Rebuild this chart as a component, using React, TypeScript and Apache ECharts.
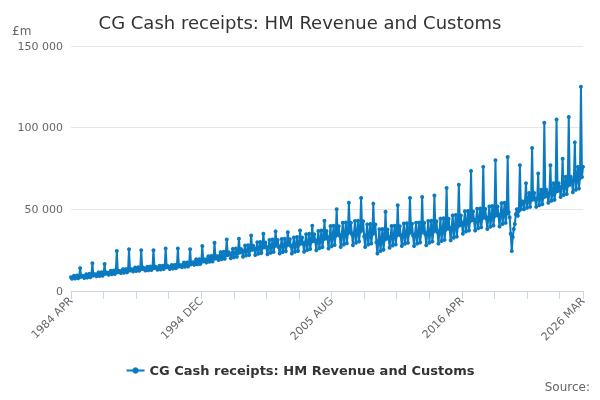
import React, { useEffect, useRef } from 'react';
import * as echarts from 'echarts';

// Monthly receipts, £m, each row a fiscal year from April to March
const firstFiscalYear = 1984;
const fiscalYearValues: number[][] = [
  [8400, 7500, 8500, 9400, 7700, 8500, 9500, 7800, 8600, 14000, 8700, 9300],
  [9100, 8000, 9200, 10300, 8200, 9300, 10500, 8400, 9400, 17000, 9500, 10300],
  [10100, 9000, 10200, 11400, 9200, 10300, 11500, 9400, 10400, 16500, 10500, 11300],
  [11100, 10000, 11200, 12400, 10200, 11300, 12500, 10400, 11400, 24500, 11500, 12300],
  [12100, 11000, 12200, 13400, 11200, 12300, 13500, 11400, 12400, 25500, 12500, 13300],
  [13100, 12000, 13200, 14400, 12200, 13300, 14500, 12400, 13400, 25000, 13500, 14300],
  [13600, 12500, 13700, 14900, 12700, 13800, 15000, 12900, 13900, 25000, 14000, 14800],
  [14100, 13000, 14200, 15400, 13200, 14300, 15500, 13400, 14400, 26000, 14500, 15300],
  [14600, 13500, 14700, 15900, 13700, 14800, 16000, 13900, 14900, 26000, 15000, 15800],
  [15800, 14500, 16000, 17400, 14800, 16000, 17500, 15000, 16100, 25500, 16300, 17200],
  [17600, 16000, 17700, 19400, 16300, 17800, 19500, 16500, 17900, 27500, 18100, 19200],
  [19300, 17500, 19500, 21300, 17900, 19500, 21500, 18100, 19700, 29500, 19900, 21200],
  [21200, 19000, 21500, 23800, 19500, 21500, 24000, 19800, 21800, 31500, 22000, 23700],
  [22700, 20000, 23000, 25800, 20600, 23000, 26000, 20900, 23300, 32000, 23600, 25700],
  [24200, 21000, 24500, 27800, 21700, 24500, 28000, 22100, 24900, 34000, 25200, 27700],
  [25600, 22000, 26000, 29800, 22800, 26000, 30000, 23200, 26400, 35000, 26800, 29700],
  [26600, 22500, 27000, 31300, 23400, 27000, 31500, 23900, 27500, 36500, 27900, 31200],
  [27000, 23000, 27500, 31800, 23900, 27500, 32000, 24400, 28000, 36000, 28400, 31700],
  [27500, 23000, 28000, 32800, 24000, 28000, 33000, 24500, 28500, 37000, 29000, 32700],
  [29000, 24000, 29500, 34800, 25100, 29500, 35000, 25700, 30000, 40000, 30600, 34700],
  [30400, 25000, 31000, 36800, 26200, 31000, 37000, 26800, 31600, 43000, 32200, 36700],
  [32300, 26000, 33000, 39800, 27400, 33000, 40000, 28100, 33700, 50000, 34400, 39700],
  [33800, 27000, 34500, 41800, 28500, 34500, 42000, 29300, 35300, 54000, 36000, 41700],
  [34800, 28000, 35500, 42800, 29500, 35500, 43000, 30300, 36300, 57000, 37000, 42700],
  [33300, 27000, 34000, 40800, 28400, 34000, 41000, 29100, 34700, 53500, 35400, 40700],
  [29800, 23000, 30500, 37800, 24500, 30500, 38000, 25300, 31300, 48500, 32000, 37700],
  [32600, 26500, 33300, 39800, 27900, 33300, 40000, 28500, 34000, 52500, 34600, 39700],
  [33800, 27500, 34500, 41300, 28900, 34500, 41500, 29600, 35200, 57000, 35900, 41200],
  [34000, 27500, 34800, 41800, 29000, 34800, 42000, 29700, 35500, 57500, 36200, 41700],
  [34800, 28000, 35500, 42800, 29500, 35500, 43000, 30300, 36300, 58500, 37000, 42700],
  [36000, 29000, 36800, 44300, 30600, 36800, 44500, 31300, 37500, 63000, 38300, 44200],
  [38000, 31000, 38800, 46300, 32600, 38800, 46500, 33300, 39500, 65000, 40300, 46200],
  [41300, 35000, 42000, 48800, 36400, 42000, 49000, 37100, 42700, 73500, 43400, 48700],
  [43100, 37000, 43800, 50300, 38400, 43800, 50500, 39000, 44400, 76000, 45100, 50200],
  [44300, 38000, 45000, 51800, 39400, 45000, 52000, 40100, 45700, 80000, 46400, 51700],
  [46000, 39500, 46800, 53800, 41000, 46800, 54000, 41700, 47500, 82000, 48200, 45000],
  [35000, 24500, 33000, 38000, 41000, 47000, 50000, 46000, 49000, 77000, 50000, 55000],
  [54500, 50000, 55000, 66000, 51000, 55000, 60000, 51500, 55500, 87500, 56000, 60000],
  [56200, 51500, 56700, 72000, 52500, 56700, 62000, 53100, 57300, 103000, 57800, 62000],
  [59400, 54000, 60000, 77000, 55200, 60000, 66000, 55800, 60600, 105000, 61200, 66000],
  [63100, 57500, 63800, 81000, 58800, 63800, 70000, 59400, 64400, 106500, 65000, 70000],
  [67500, 60500, 68300, 91000, 62000, 68300, 76000, 62800, 69000, 125000, 69800, 76000],
];
const monthNames = ['APR', 'MAY', 'JUN', 'JUL', 'AUG', 'SEP', 'OCT', 'NOV', 'DEC', 'JAN', 'FEB', 'MAR'];
const seriesName = 'CG Cash receipts: HM Revenue and Customs';

const categories: string[] = [];
const values: number[] = [];
fiscalYearValues.forEach((row, i) => {
  row.forEach((v, m) => {
    const year = firstFiscalYear + i + (m >= 9 ? 1 : 0);
    categories.push(`${year} ${monthNames[m]}`);
    values.push(v);
  });
});
const lastIndex = categories.length - 1;

const App = () => {
  const chartRef = useRef<HTMLDivElement>(null);

  useEffect(() => {
    if (!chartRef.current) return;
    const chart = echarts.init(chartRef.current, null, { renderer: 'svg' });
    const font = 'DejaVu Sans, Verdana, sans-serif';
    chart.setOption({
      animation: false,
      textStyle: { fontFamily: font },
      title: {
        text: 'CG Cash receipts: HM Revenue and Customs',
        left: 'center',
        top: 8,
        textStyle: { fontSize: 18, fontWeight: 'normal', color: '#333', fontFamily: font },
      },
      graphic: [
        { type: 'text', left: 12, top: 25, style: { text: '£m', fontSize: 12, fill: '#666', fontFamily: font } },
        { type: 'text', right: 10, top: 381, style: { text: 'Source:', fontSize: 12, fill: '#666', fontFamily: font } },
      ],
      legend: {
        bottom: 18,
        left: 'center',
        itemWidth: 18,
        itemHeight: 8,
        textStyle: { fontSize: 13, fontWeight: 'bold', color: '#333', fontFamily: font },
      },
      grid: { left: 71, right: 17, top: 46, bottom: 109 },
      xAxis: {
        type: 'category',
        data: categories,
        boundaryGap: false,
        axisLine: { lineStyle: { color: '#ccd6eb' } },
        axisTick: {
          length: 8,
          lineStyle: { color: '#ccd6eb' },
          interval: (i: number) => i % 32 === 0 || i === lastIndex,
        },
        axisLabel: {
          rotate: 45,
          color: '#666',
          fontSize: 11,
          fontFamily: font,
          showMaxLabel: true,
          interval: (i: number) => i % 128 === 0 || i === lastIndex,
        },
      },
      yAxis: {
        type: 'value',
        min: 0,
        max: 150000,
        interval: 50000,
        axisLabel: {
          color: '#666',
          fontSize: 11,
          fontFamily: font,
          formatter: (v: number) => String(v).replace(/\B(?=(\d{3})+(?!\d))/g, ' '),
        },
        splitLine: { lineStyle: { color: '#e6e6e6' } },
      },
      series: [
        {
          name: seriesName,
          type: 'line',
          data: values,
          color: '#0a7bc1',
          lineStyle: { width: 2 },
          symbol: 'circle',
          symbolSize: 4,
          showAllSymbol: true,
        },
      ],
    });
    return () => chart.dispose();
  }, []);

  return <div ref={chartRef} style={{ position: 'fixed', left: 0, top: 0, width: 600, height: 400 }} />;
};

export default App;
